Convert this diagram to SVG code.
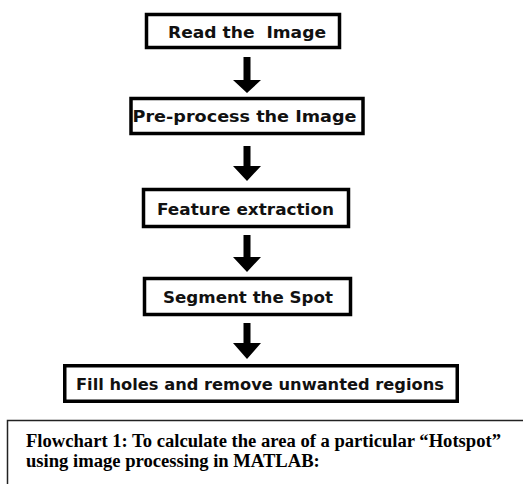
<svg xmlns="http://www.w3.org/2000/svg" width="523" height="484" viewBox="0 0 523 484">
<style>
.box{fill:#fff;stroke:#000;stroke-width:3.5}
.lbl{font-family:"Comic Sans MS","DejaVu Sans","Liberation Sans",sans-serif;font-size:16.5px;font-weight:bold;fill:#111}
.arr{fill:#000}
.cap{font-family:"Liberation Serif","Times New Roman",serif;font-size:18.6px;font-weight:bold;fill:#000}
</style>
<rect width="523" height="484" fill="#fff"/>
<g id="connectors">
<polygon class="arr" points="243.5,57 250.5,57 250.5,80 261,80 247,93 233,80 243.5,80"/>
<polygon class="arr" points="243.5,146 250.5,146 250.5,166 261,166 247,181 233,166 243.5,166"/>
<polygon class="arr" points="243.5,235 250.5,235 250.5,257 261,257 247,272 233,257 243.5,257"/>
<polygon class="arr" points="243.5,323 250.5,323 250.5,343 261,343 247,359 233,343 243.5,343"/>
</g>
<g id="n1">
<rect class="box" x="146.5" y="14.5" width="193" height="33"/>
<text class="lbl" x="168" y="37.5" textLength="158" lengthAdjust="spacingAndGlyphs" style="white-space:pre">Read the  Image</text>
</g>
<g id="n2">
<rect class="box" x="131" y="98.5" width="232" height="35"/>
<text class="lbl" x="132.5" y="122" textLength="224" lengthAdjust="spacingAndGlyphs">Pre-process the Image</text>
</g>
<g id="n3">
<rect class="box" x="143.5" y="189.5" width="205" height="37"/>
<text class="lbl" x="157" y="214.5" textLength="177" lengthAdjust="spacingAndGlyphs">Feature extraction</text>
</g>
<g id="n4">
<rect class="box" x="144.5" y="278.5" width="206" height="36"/>
<text class="lbl" x="163" y="303" textLength="170" lengthAdjust="spacingAndGlyphs">Segment the Spot</text>
</g>
<g id="n5">
<rect class="box" x="64.75" y="365.75" width="392.5" height="35.5"/>
<text class="lbl" x="76" y="389.5" textLength="368" lengthAdjust="spacingAndGlyphs">Fill holes and remove unwanted regions</text>
</g>
<g id="caption">
<path d="M7.5,484 V420.5 H523" fill="none" stroke="#222" stroke-width="1.5"/>
<text class="cap" x="26" y="446.5">Flowchart 1: To calculate the area of a particular “Hotspot”</text>
<text class="cap" x="26" y="467">using image processing in MATLAB:</text>
</g>
</svg>
